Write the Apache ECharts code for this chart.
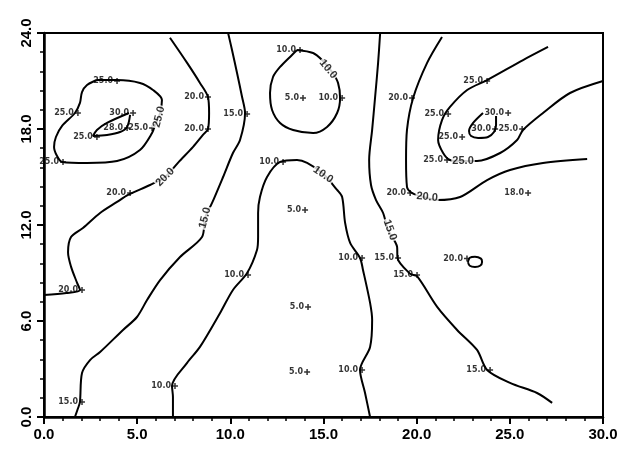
<!DOCTYPE html>
<html>
<head>
<meta charset="utf-8">
<script src="https://cdn.jsdelivr.net/npm/echarts@6/dist/echarts.min.js"></script>
<style>html,body{margin:0;padding:0;background:#fff}#c{width:632px;height:450px}</style>
</head>
<body>
<div id="c"></div>
<script>
// ---- axis ticks ----
const xTickValues = [0, 5, 10, 15, 20, 25, 30];
const yTickValues = [0, 6, 12, 18, 24];

// ---- contour lines (data coordinates) ----
const contour20Left = [[0,7.63],[1.2,7.75],[1.93,7.94],[1.77,8.4],[1.45,9.4],[1.29,10.3],[1.45,11.25],[2.09,11.81],[3.01,12.75],[3.92,13.44],[4.51,13.88],[5.69,14.5],[6.5,15.0],[7.2,15.9],[8.0,16.88],[8.53,17.63],[8.8,18.0],[8.86,19.0],[8.8,20.0],[8.37,20.88],[7.68,22.13],[6.76,23.7]];
const contour15Left = [[1.66,0],[1.83,0.56],[1.93,0.94],[2.04,2.75],[2.47,3.56],[3.01,4.06],[4.24,5.44],[4.99,6.25],[5.53,7.31],[6.23,8.56],[7.3,10.0],[8.48,11.25],[8.64,12.44],[9.02,13.38],[9.61,15.0],[10.14,16.5],[10.52,17.31],[10.79,19.0],[10.63,20.0],[10.36,21.5],[10.09,22.94],[9.88,24]];
const contour10Arch = [[6.92,0],[6.92,1.25],[6.87,1.94],[7.68,3.38],[8.37,4.38],[9.45,6.5],[10.14,7.94],[10.9,9.0],[11.43,10.44],[11.49,11.25],[11.49,12.75],[11.59,13.75],[11.97,15.0],[12.67,15.94],[13.58,16.06],[14.12,15.88],[14.98,15.2],[15.73,14.19],[16.0,13.75],[16.16,12.13],[16.43,10.88],[16.96,9.94],[17.12,9.19],[17.5,7.13],[17.61,6.06],[17.5,4.38],[16.96,2.94],[17.23,1.5],[17.5,0]];
const contour10Top = [[13.58,22.94],[14.44,22.75],[14.92,22.31],[15.46,21.56],[15.78,20.88],[15.89,19.94],[15.73,19.0],[15.19,18.13],[14.44,17.75],[13.37,17.94],[12.67,18.38],[12.24,19.19],[12.13,20.25],[12.29,21.25],[12.67,21.88],[13.31,22.63],[13.58,22.94]];
const contour15Right = [[18.04,24],[17.93,22.13],[17.77,20.0],[17.61,17.94],[17.45,16.06],[17.55,14.5],[17.82,13.56],[18.2,12.75],[18.46,11.69],[18.95,10.63],[18.97,9.94],[19.65,8.95],[20.02,8.8],[21.1,6.88],[22.17,5.44],[23.24,4.19],[23.78,2.94],[25.01,2.13],[26.46,1.5],[27.27,0.88]];
const contour20Right = [[21.36,23.75],[20.56,22.13],[19.81,19.94],[19.48,17.94],[19.43,16.06],[19.48,14.38],[19.75,14.0],[20.34,13.75],[21.1,13.56],[22.33,13.75],[23.78,14.81],[25.01,15.44],[26.78,15.88],[29.15,16.13]];
const contour20Small = [[22.75,9.69],[22.85,9.95],[23.13,10.02],[23.45,9.9],[23.51,9.69],[23.4,9.45],[23.13,9.38],[22.85,9.45],[22.75,9.69]];
const contour25Left = [[2.84,21.06],[3.92,21.06],[5.15,20.88],[5.85,20.44],[6.33,19.81],[6.23,19.0],[5.96,18.25],[5.8,17.75],[5.15,16.69],[3.92,16.0],[2.31,15.88],[0.97,15.94],[0.7,16.31],[0.54,16.88],[0.64,17.5],[0.97,18.19],[1.66,19.0],[1.93,19.63],[2.04,20.31],[2.31,20.75],[2.84,21.06]];
const contour25Right = [[27.05,23.13],[25.71,22.31],[23.78,21.06],[22.71,20.44],[21.79,19.38],[21.36,18.56],[21.15,17.31],[21.42,16.5],[21.79,16.06],[22.33,16.0],[23.24,16.0],[24.48,16.5],[25.39,17.31],[25.71,17.94],[26.78,19.0],[28.23,20.25],[30,21.0]];
const contour30Left = [[4.56,19.0],[3.38,18.38],[2.84,17.94],[2.63,17.56],[3.38,17.63],[4.08,17.81],[4.46,18.13],[4.62,18.88]];
const contour30Right = [[23.56,19.0],[23.03,18.38],[22.81,17.88],[22.92,17.56],[23.3,17.44],[23.83,17.5],[24.15,17.81],[24.26,18.25],[24.26,18.81]];

// ---- contour labels ----
const contourLabelText = ["25.0","20.0","15.0","10.0","10.0","15.0","20.0","25.0"];
const contourLabelX = [6.17,6.5,8.64,14.98,15.25,18.57,20.56,22.49];
const contourLabelY = [18.75,15.0,12.44,15.15,21.75,11.69,13.75,16.0];

// ---- data stations ----
const stationX = [3.92,1.82,4.78,2.84,4.46,5.8,1.02,8.8,8.8,10.9,4.62,13.74,13.9,16.0,12.83,14.01,2.04,2.04,10.95,7.03,14.17,14.12,17.07,17.07,19.0,20.02,22.7,23.94,25.98,19.75,19.65,21.69,23.78,24.91,24.21,22.44,25.66,21.63];
const stationY = [21.0,19.0,19.0,17.5,18.06,18.06,15.94,20.0,18.0,18.94,14.0,22.94,19.94,19.94,15.94,12.94,7.94,0.94,8.88,1.94,6.88,2.81,9.94,2.94,9.94,8.88,9.9,2.94,14.0,19.94,14.0,18.94,21.0,19.0,18.0,17.5,18.0,16.06];
const stationText = ["25.0","25.0","30.0","25.0","28.0","25.0","25.0","20.0","20.0","15.0","20.0","10.0","5.0","10.0","10.0","5.0","20.0","15.0","10.0","10.0","5.0","5.0","10.0","10.0","15.0","15.0","20.0","15.0","18.0","20.0","20.0","25.0","25.0","30.0","30.0","25.0","25.0","25.0"];

// ---- styling (not data) ----
const labelAngles = [75,45,75,-35,-50,-70,-5,0];
const contours = [contour20Left, contour15Left, contour10Arch, contour10Top, contour15Right, contour20Right, contour20Small, contour25Left, contour25Right, contour30Left, contour30Right];
const plusPath = 'path://M3,0H5V3H8V5H5V8H3V5H0V3H3Z';

const series = contours.map(c => ({
  type: 'line', data: c, symbol: 'none', showSymbol: false, smooth: 0.3,
  lineStyle: { color: '#000', width: 2 }, silent: true, z: 2, animation: false
}));
series.push({
  type: 'scatter', z: 5, silent: true,
  symbol: plusPath, symbolSize: 6, itemStyle: { color: '#000' },
  data: stationX.map((x, i) => ({ name: stationText[i], value: [x, stationY[i]] })),
  label: { show: true, position: 'left', distance: 1, formatter: p => p.name,
    fontSize: 8, fontWeight: 'bold', fontFamily: 'DejaVu Sans', color: '#000' }
});
series.push({
  type: 'scatter', z: 6, silent: true, symbol: 'circle', symbolSize: 1,
  itemStyle: { color: 'rgba(0,0,0,0)' },
  data: contourLabelX.map((x, i) => ({ name: contourLabelText[i], value: [x, contourLabelY[i]],
    label: { rotate: labelAngles[i] } })),
  label: { show: true, position: 'inside', formatter: p => p.name, backgroundColor: '#fff',
    padding: [0, 1], fontSize: 11, fontWeight: 'bold', fontFamily: 'Liberation Sans', color: '#000' }
});

const axisCommon = {
  type: 'value',
  axisLine: { show: true, lineStyle: { color: '#000', width: 2.5 } },
  axisTick: { show: true, length: 7, lineStyle: { color: '#000', width: 2 } },
  minorTick: { show: true, splitNumber: 5, length: 4, lineStyle: { color: '#000', width: 1.5 } },
  splitLine: { show: false },
  minorSplitLine: { show: false }
};

const chart = echarts.init(document.getElementById('c'), null, { renderer: 'canvas' });
chart.setOption({
  animation: false,
  backgroundColor: '#fff',
  grid: { left: 44, right: 29, top: 33, bottom: 33, show: true, borderColor: '#000', borderWidth: 2 },
  xAxis: Object.assign({}, axisCommon, {
    min: xTickValues[0], max: xTickValues[xTickValues.length - 1], interval: xTickValues[1] - xTickValues[0],
    axisLabel: { formatter: v => v.toFixed(1), fontSize: 15, fontWeight: 'bold', fontFamily: 'Liberation Sans', color: '#000', margin: 10 }
  }),
  yAxis: Object.assign({}, axisCommon, {
    min: yTickValues[0], max: yTickValues[yTickValues.length - 1], interval: yTickValues[1] - yTickValues[0],
    axisLabel: { formatter: v => v.toFixed(1), rotate: 90, fontSize: 15, fontWeight: 'bold', fontFamily: 'Liberation Sans', color: '#000', margin: 10 }
  }),
  series: series
});
</script>
</body>
</html>
